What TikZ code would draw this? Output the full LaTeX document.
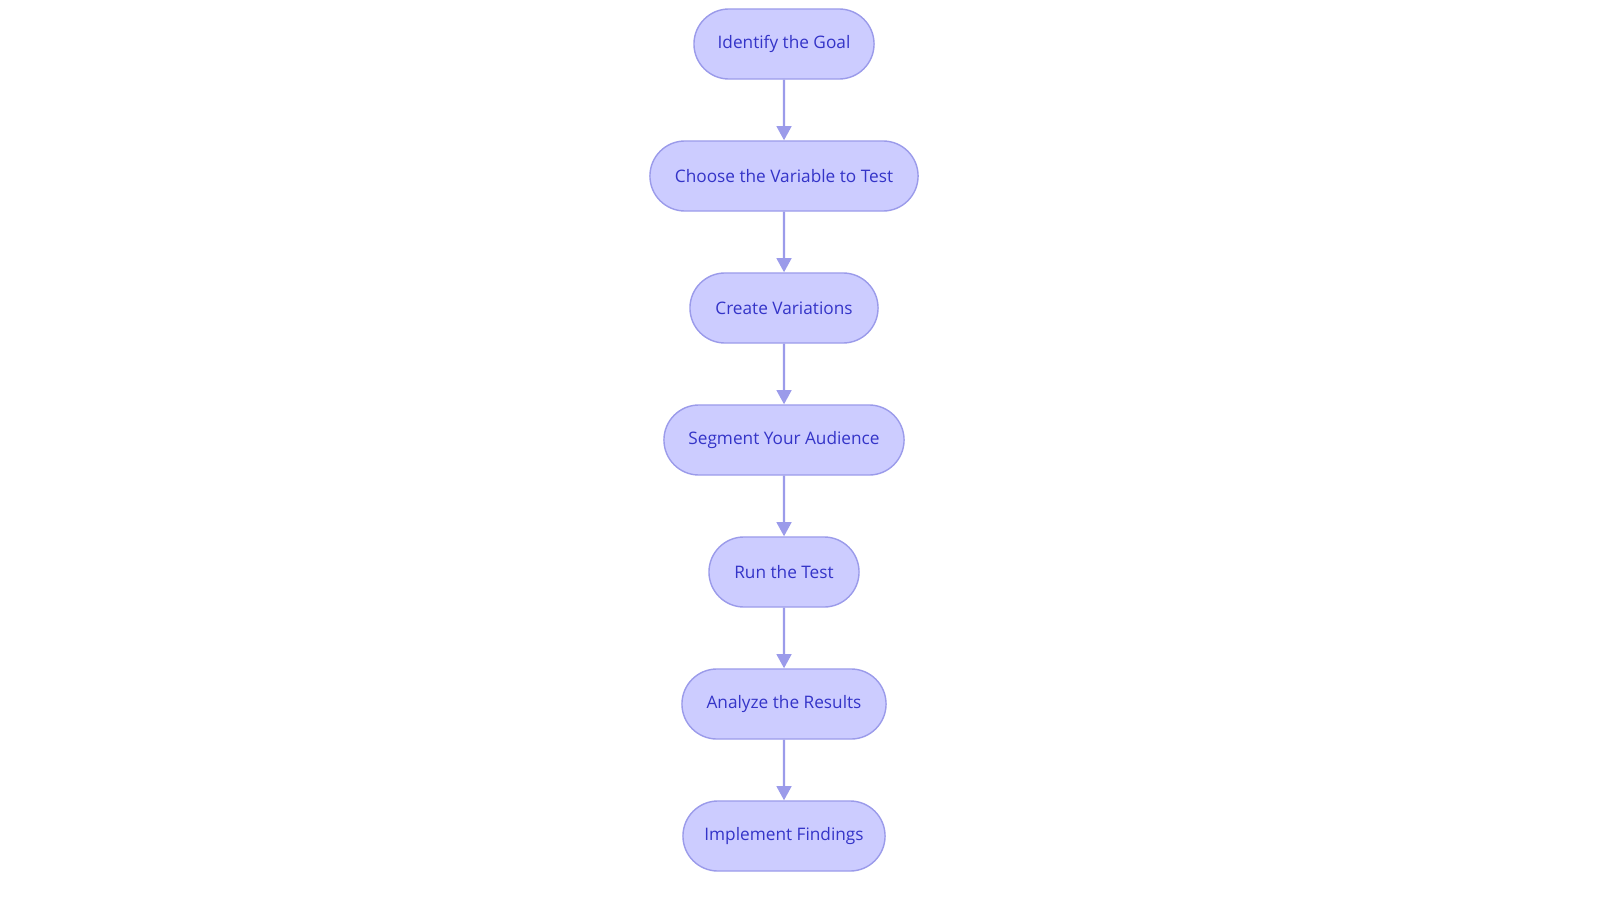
\documentclass[tikz,border=0pt]{standalone}
\usepackage{fontspec}
\setmainfont{Open Sans}
\usetikzlibrary{arrows.meta,shapes.misc}
\definecolor{stepFill}{HTML}{CCCCFF}
\definecolor{stepLine}{HTML}{9B9BEA}
\definecolor{stepText}{HTML}{3434C8}
\tikzset{test step/.style={rounded rectangle, draw=stepLine, fill=stepFill, text=stepText,
	line width=0.4pt, minimum height=0.7cm, inner xsep=0pt, font=\fontsize{4.9}{6}\selectfont}}
\tikzset{flow/.style={-{Triangle[length=4pt,width=4.2pt]}, draw=stepLine, line width=0.6pt}}
\begin{document}
\begin{tikzpicture}[x=0.01cm,y=-0.01cm]
	\useasboundingbox (0,0) rectangle (1600,903);
	\node[test step, minimum width=1.80cm] at (784,44)  (goal)      {Identify the Goal};
	\node[test step, minimum width=2.68cm] at (784,176) (variable)  {Choose the Variable to Test};
	\node[test step, minimum width=1.88cm] at (784,308) (variations){Create Variations};
	\node[test step, minimum width=2.40cm] at (784,440) (segment)   {Segment Your Audience};
	\node[test step, minimum width=1.50cm] at (784,572) (run)       {Run the Test};
	\node[test step, minimum width=2.04cm] at (784,704) (analyze)   {Analyze the Results};
	\node[test step, minimum width=2.02cm] at (784,836) (implement) {Implement Findings};
	\draw[flow] (goal) -- (variable);
	\draw[flow] (variable) -- (variations);
	\draw[flow] (variations) -- (segment);
	\draw[flow] (segment) -- (run);
	\draw[flow] (run) -- (analyze);
	\draw[flow] (analyze) -- (implement);
\end{tikzpicture}
\end{document}
